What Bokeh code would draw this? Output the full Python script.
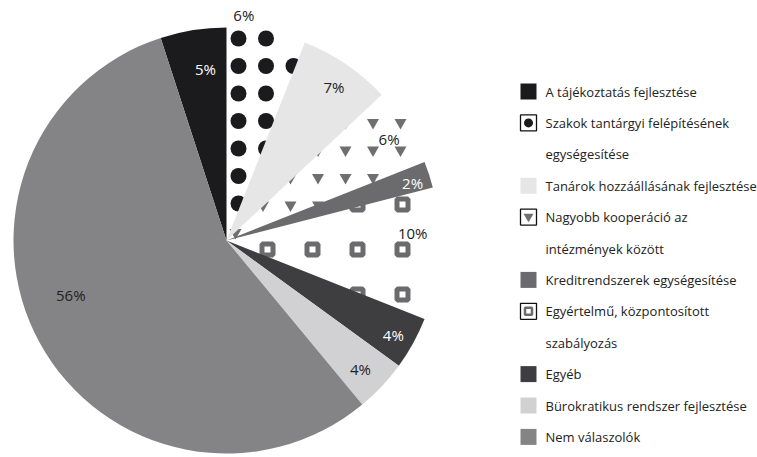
import numpy as np
from bokeh.plotting import figure
from bokeh.models import Range1d
from bokeh.embed import file_html
from bokeh.resources import INLINE
from bokeh.core.properties import value

# ---------------- data ----------------
categories = [
    "A tájékoztatás fejlesztése",
    "Szakok tantárgyi felépítésének egységesítése",
    "Tanárok hozzáállásának fejlesztése",
    "Nagyobb kooperáció az intézmények között",
    "Kreditrendszerek egységesítése",
    "Egyértelmű, központosított szabályozás",
    "Egyéb",
    "Bürokratikus rendszer fejlesztése",
    "Nem válaszolók",
]
values = [5, 6, 7, 6, 2, 10, 4, 4, 56]
pct_labels = ["5%", "6%", "7%", "6%", "2%", "10%", "4%", "4%", "56%"]
legend_lines = [
    ["A tájékoztatás fejlesztése"],
    ["Szakok tantárgyi felépítésének", "egységesítése"],
    ["Tanárok hozzáállásának fejlesztése"],
    ["Nagyobb kooperáció az", "intézmények között"],
    ["Kreditrendszerek egységesítése"],
    ["Egyértelmű, központosított", "szabályozás"],
    ["Egyéb"],
    ["Bürokratikus rendszer fejlesztése"],
    ["Nem válaszolók"],
]

# ---------------- style ----------------
FONT = "Open Sans"
colors = ["#1b1a1c", "#ffffff", "#e6e6e6", "#ffffff", "#6b6b6d",
          "#ffffff", "#3e3d40", "#d1d1d3", "#848486"]
patterns = [None, "dot", None, "tri", None, "sq", None, None, None]
label_colors = ["#ffffff", "#222222", "#222222", "#222222", "#ffffff",
                "#222222", "#ffffff", "#222222", "#222222"]
label_rf = [0.81, 1.06, 0.88, 0.90, 0.915, 0.875, 0.90, 0.87, 0.775]
label_da = [2, -6.4, 0.8, 0.4, 0.7, -6, 0.7, 0.5, 9.4]

W, H = 757, 457
IMG_H = 457
CX, CY, R = 226.0, IMG_H - 240.0, 213.0
FIRST = 342.0  # clockwise degrees from 12 o'clock where first slice starts

p = figure(width=W, height=H, output_backend="svg", toolbar_location=None,
           x_range=Range1d(0, W), y_range=Range1d(IMG_H - H, IMG_H),
           min_border=0, x_axis_location=None, y_axis_location=None,
           outline_line_color=None, background_fill_color="white",
           border_fill_color="white")
p.grid.visible = False

total = float(sum(values))
t1, t2 = [], []
acc = FIRST
for v in values:
    t1.append(acc)
    acc += v / total * 360.0
    t2.append(acc)


def std(theta_cw):
    return np.radians(90.0 - theta_cw)


def cw_angle(x, y):
    return (np.degrees(np.arctan2(x - CX, y - CY))) % 360.0


def in_slice(theta, a, b, margin):
    width = b - a
    rel = (theta - a + margin) % 360.0
    return rel <= width + 2 * margin


# patterned (white) wedges first
pat_idx = [i for i in range(len(values)) if patterns[i]]
p.wedge(x=CX, y=CY, radius=R,
        start_angle=[std(t2[i]) for i in pat_idx],
        end_angle=[std(t1[i]) for i in pat_idx],
        fill_color="white", line_color=None)

# pattern markers (grid, kept only inside their slice)
grid_specs = {
    "dot": dict(x0=238.0, y0=38.0, step=27.5, half=8.0),
    "tri": dict(x0=345.0 - 27.5 * 5, y0=122.0 - 27.5 * 4, step=27.5, half=5.5),
    "sq": dict(x0=267.0, y0=204.0 - 45.0 * 2, step=45.0, half=8.5),
}
for i in pat_idx:
    g = grid_specs[patterns[i]]
    xs_all = g["x0"] + g["step"] * np.arange(-2, 12)
    ys_all = g["y0"] + g["step"] * np.arange(-2, 16)
    px, py = [], []
    for X in xs_all:
        for Y in ys_all:
            y = IMG_H - Y
            r = np.hypot(X - CX, y - CY)
            if r < 6 or r + g["half"] * 0.35 > R:
                continue
            th = cw_angle(X, y)
            marg = np.degrees(g["half"] * 1.0 / r)
            if in_slice(th, t1[i], t2[i], marg):
                px.append(X)
                py.append(y)
    if patterns[i] == "dot":
        p.scatter(px, py, marker="circle", size=16, fill_color="#1b1a1c", line_color=None)
    elif patterns[i] == "tri":
        p.scatter(px, py, marker="inverted_triangle", size=12, fill_color="#6f6f71", line_color=None)
    else:
        p.scatter(px, py, marker="square", size=11, fill_color="white",
                  line_color="#6b6b6d", line_width=5)

# solid wedges on top
sol_idx = [i for i in range(len(values)) if not patterns[i]]
p.wedge(x=CX, y=CY, radius=R,
        start_angle=[std(t2[i]) for i in sol_idx],
        end_angle=[std(t1[i]) for i in sol_idx],
        fill_color=[colors[i] for i in sol_idx], line_color=None)

# percentage labels
lx, ly = [], []
for i in range(len(values)):
    mid = (t1[i] + t2[i]) / 2.0 + label_da[i]
    rr = R * label_rf[i]
    lx.append(CX + rr * np.sin(np.radians(mid)))
    ly.append(CY + rr * np.cos(np.radians(mid)))
p.text(x=lx, y=ly, text=pct_labels, text_color=label_colors,
       text_font=value(FONT), text_font_size="15px",
       text_align="center", text_baseline="middle")

# legend
LX_M, LX_T = 528.0, 545.0
Y0, DY = 91.0, 31.4
row = 0
tx, ty, tt = [], [], []
mk_y = []
for i, lines in enumerate(legend_lines):
    mk_y.append(IMG_H - (Y0 + DY * row))
    for ln in lines:
        tx.append(LX_T)
        ty.append(IMG_H - (Y0 + DY * row))
        tt.append(ln)
        row += 1

for i in range(len(values)):
    if patterns[i]:
        p.scatter([LX_M], [mk_y[i]], marker="square", size=16, fill_color="white",
                  line_color="#111111", line_width=1.3)
        if patterns[i] == "dot":
            p.scatter([LX_M], [mk_y[i]], marker="circle", size=9,
                      fill_color="#1b1a1c", line_color=None)
        elif patterns[i] == "tri":
            p.scatter([LX_M], [mk_y[i] + 0.5], marker="inverted_triangle", size=10,
                      fill_color="#6f6f71", line_color=None)
        else:
            p.scatter([LX_M], [mk_y[i]], marker="square", size=7, fill_color="white",
                      line_color="#6b6b6d", line_width=2.5)
    else:
        p.scatter([LX_M], [mk_y[i]], marker="square", size=16,
                  fill_color=colors[i], line_color=None)

p.text(x=tx, y=ty, text=tt, text_color="#222222", text_font=value(FONT),
       text_font_size="13px", text_align="left", text_baseline="middle")

open("out.html", "w").write(file_html(p, INLINE))
